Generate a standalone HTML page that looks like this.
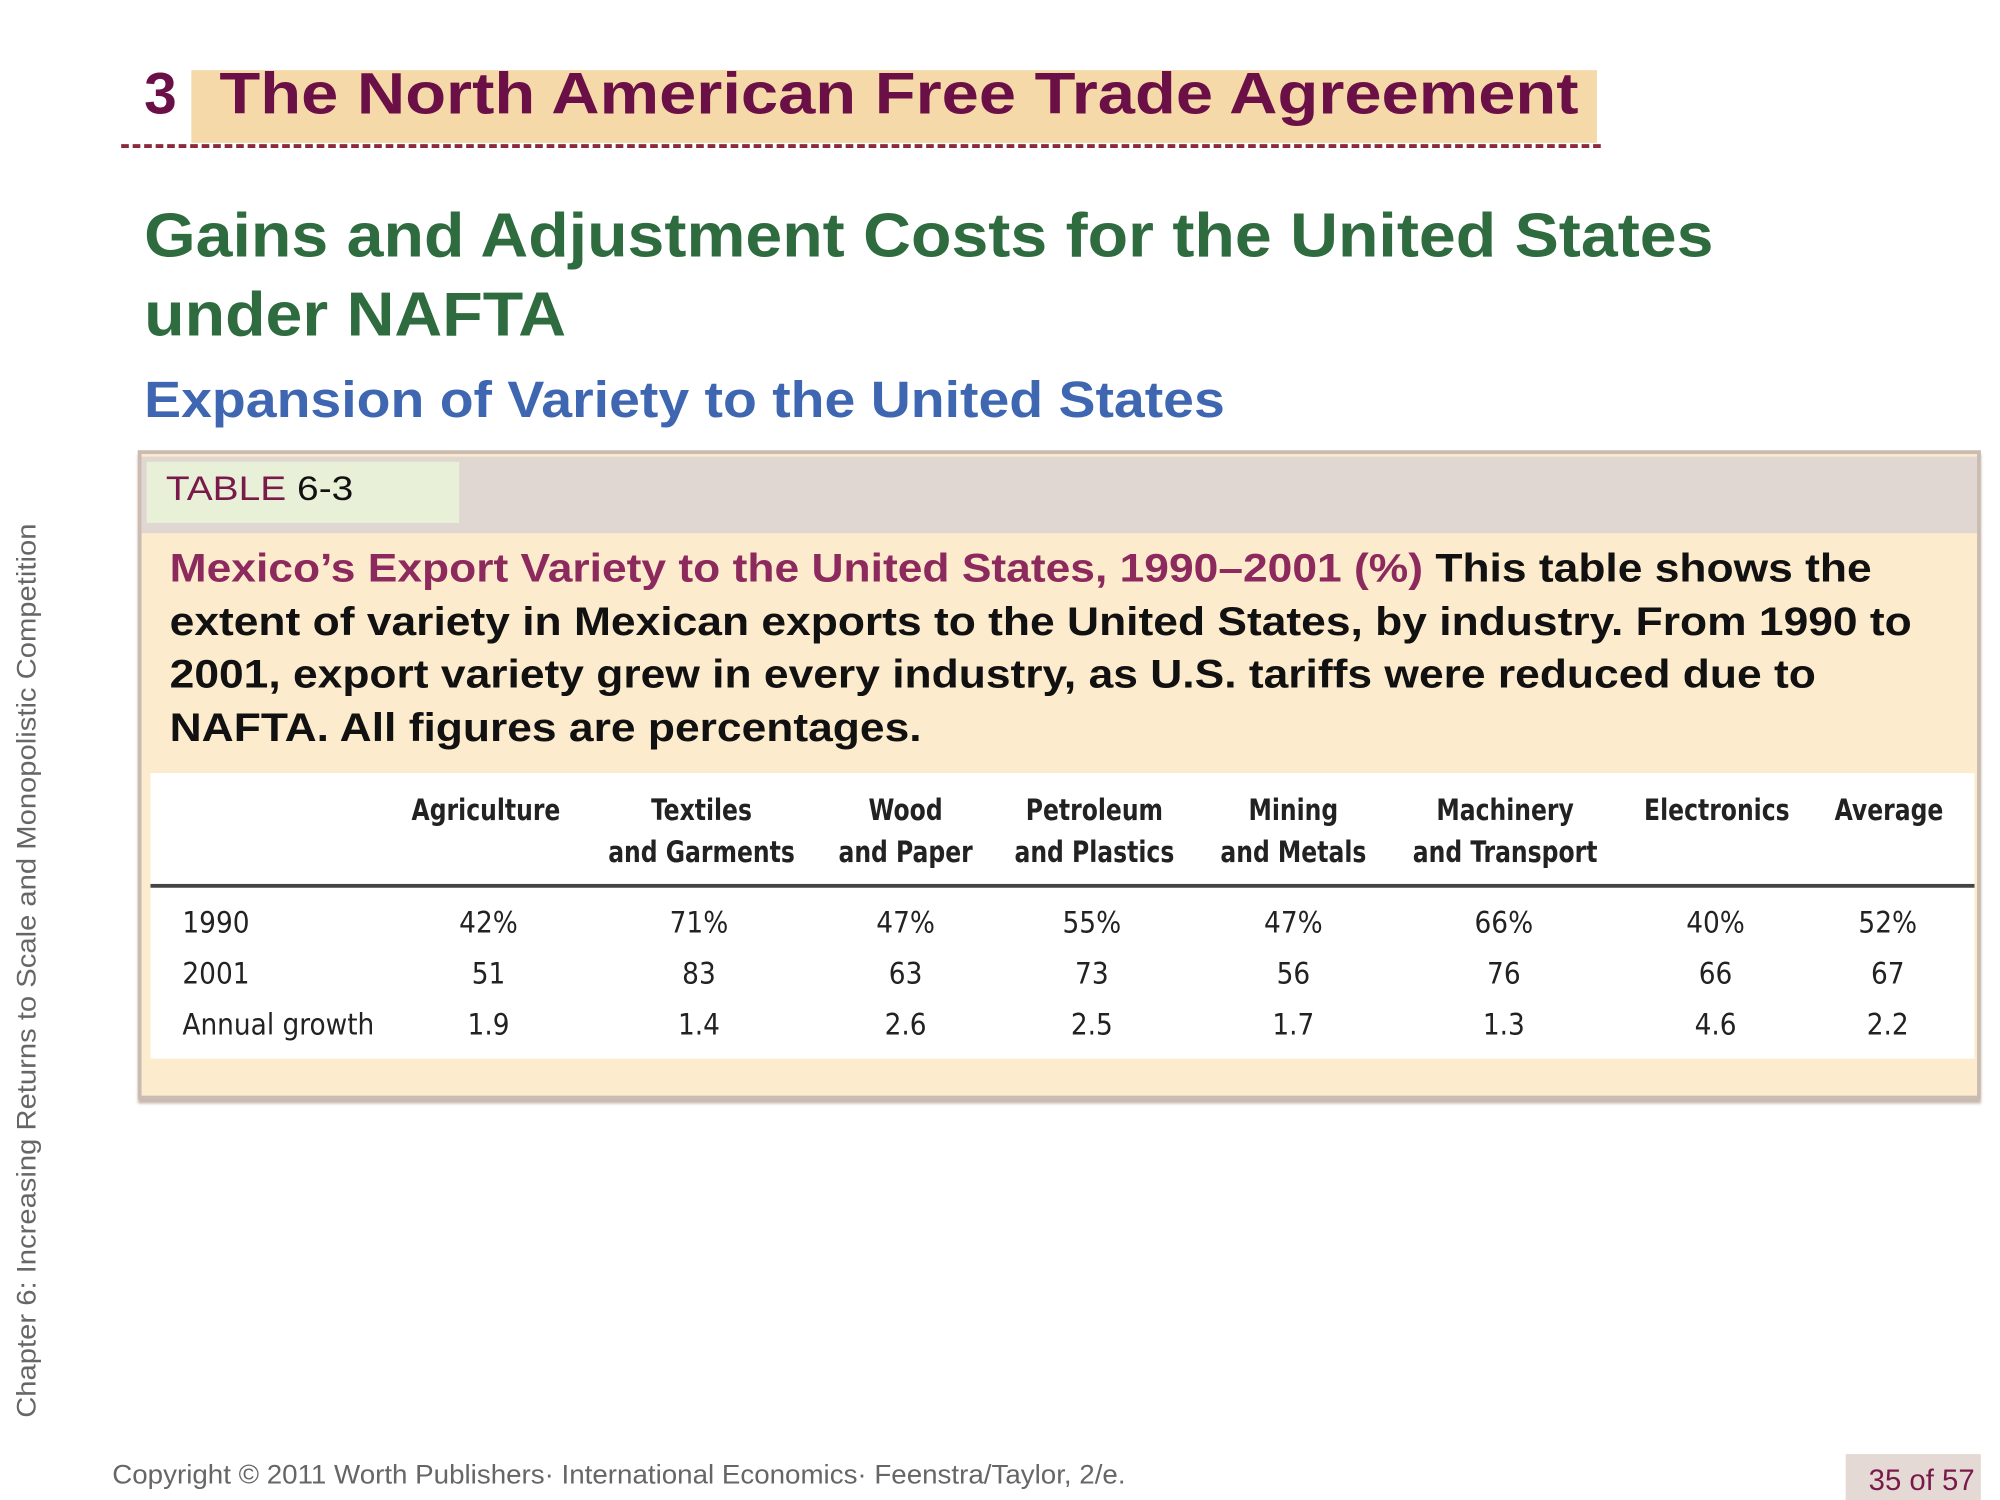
<!DOCTYPE html>
<html><head><meta charset="utf-8"><style>
html,body{margin:0;padding:0;background:#fff;width:2000px;height:1500px;overflow:hidden}
#s{position:absolute;left:0;top:0;width:1568px;height:1176px;transform:scale(1.27551);transform-origin:0 0;font-family:"Liberation Sans",sans-serif}
.a{position:absolute;white-space:nowrap}
.t{font-family:"DejaVu Sans Condensed","Liberation Sans",sans-serif;font-size:23px;color:#222;position:absolute;white-space:nowrap;transform:translateX(-50%);text-align:center;line-height:33px}
.h{font-weight:bold;transform:translateX(-50%) scaleX(.89)}
.sx{transform-origin:0 0}
</style></head><body><div id="s">
<div class="a" style="left:150px;top:55px;width:1102px;height:57px;background:#f5d9a8"></div>
<div class="a" style="left:95px;top:113px;width:1160px;height:0;border-top:3px dashed #8b2a3a"></div>
<div class="a" style="left:113px;top:46px;font-size:46px;font-weight:bold;color:#6b0f47">3</div>
<div class="a sx" style="left:172px;top:46px;font-size:46px;font-weight:bold;color:#6b0f47;transform:scaleX(1.14)">The North American Free Trade Agreement</div>
<div class="a sx" style="left:113px;top:154px;font-size:49px;font-weight:bold;color:#2e6b3e;line-height:62px;transform:scaleX(1.06)">Gains and Adjustment Costs for the United States<br>under NAFTA</div>
<div class="a sx" style="left:113px;top:292px;font-size:40px;font-weight:bold;color:#3f67b1;transform:scaleX(1.086)">Expansion of Variety to the United States</div>

<div class="a" style="left:108px;top:353px;width:1439px;height:503px;border:3px solid #cbbcb3;background:#fcebcd;box-shadow:0 3px 2px #c8b8b0"></div>
<div class="a" style="left:111px;top:358px;width:1439px;height:60px;background:#e0d6d2"></div>
<div class="a" style="left:115px;top:362px;width:245px;height:48px;background:#e8f0d8"></div>
<div class="a sx" style="left:130px;top:368px;font-size:27px;color:#7a1a4a;transform:scaleX(1.13)">TABLE <span style="color:#111">6-3</span></div>
<div class="a sx" style="left:133px;top:425px;font-size:31px;font-weight:bold;color:#111;line-height:41.5px;transform:scaleX(1.122)"><span style="color:#8c2a5e">Mexico’s Export Variety to the United States, 1990–2001 (%)</span> This table shows the<br>extent of variety in Mexican exports to the United States, by industry. From 1990 to<br>2001, export variety grew in every industry, as U.S. tariffs were reduced due to<br>NAFTA. All figures are percentages.</div>
<div class="a" style="left:118px;top:606px;width:1430px;height:224px;background:#fff"></div>
<div class="a" style="left:118px;top:693px;width:1430px;height:3px;background:#444"></div>

<div class="t h" style="left:381px;top:620px">Agriculture</div>
<div class="t h" style="left:550px;top:620px">Textiles<br>and Garments</div>
<div class="t h" style="left:710px;top:620px">Wood<br>and Paper</div>
<div class="t h" style="left:858px;top:620px">Petroleum<br>and Plastics</div>
<div class="t h" style="left:1014px;top:620px">Mining<br>and Metals</div>
<div class="t h" style="left:1180px;top:620px">Machinery<br>and Transport</div>
<div class="t h" style="left:1346px;top:620px">Electronics</div>
<div class="t h" style="left:1481px;top:620px">Average</div>

<div class="t" style="left:143px;top:704px;transform:none;text-align:left;line-height:40px">1990<br>2001<br>Annual growth</div>
<div class="t" style="left:383px;top:704px;line-height:40px">42%<br>51<br>1.9</div>
<div class="t" style="left:548px;top:704px;line-height:40px">71%<br>83<br>1.4</div>
<div class="t" style="left:710px;top:704px;line-height:40px">47%<br>63<br>2.6</div>
<div class="t" style="left:856px;top:704px;line-height:40px">55%<br>73<br>2.5</div>
<div class="t" style="left:1014px;top:704px;line-height:40px">47%<br>56<br>1.7</div>
<div class="t" style="left:1179px;top:704px;line-height:40px">66%<br>76<br>1.3</div>
<div class="t" style="left:1345px;top:704px;line-height:40px">40%<br>66<br>4.6</div>
<div class="t" style="left:1480px;top:704px;line-height:40px">52%<br>67<br>2.2</div>

<div class="a" style="left:22px;top:761px;font-size:21px;color:#666;transform:translate(-50%,-50%) rotate(-90deg) scaleX(1.09)">Chapter 6: Increasing Returns to Scale and Monopolistic Competition</div>
<div class="a sx" style="left:88px;top:1145px;font-size:21px;color:#666;transform:scaleX(1.035)">Copyright © 2011 Worth Publishers· International Economics· Feenstra/Taylor, 2/e.</div>
<div class="a" style="left:1447px;top:1140px;width:106px;height:36px;background:#e5d9d5"></div>
<div class="a" style="left:1465px;top:1147px;font-size:23px;color:#7a1a4a">35 of 57</div>
</div></body></html>
